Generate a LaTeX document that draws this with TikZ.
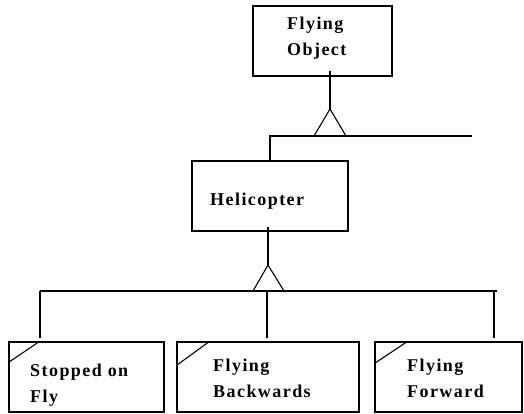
\documentclass[tikz,border=0pt]{standalone}
\usepackage{fontspec}
\newfontfamily\lblfont[LetterSpace=8]{Liberation Serif}
\begin{document}
\begin{tikzpicture}[x=1pt,y=-1pt,
  cls/.style={draw,line width=1.1pt,minimum height=70pt,inner sep=0pt},
  lbl/.style={anchor=base west,align=left,inner sep=0pt,
    font=\lblfont\bfseries\fontsize{18}{26}\selectfont},
  ln/.style={line width=1.1pt},
  gap/.style={ln,shorten >=3pt}]
\useasboundingbox (0,0) rectangle (524,413);

% classes
\node[cls,minimum width=139pt] (fo)   at (322.5,41) {};
\node[cls,minimum width=156pt] (heli) at (270,196) {};
\node[cls,minimum width=155pt] (s1)   at (86.5,377) {};
\node[cls,minimum width=182pt] (s2)   at (268,377) {};
\node[cls,minimum width=147pt] (s3)   at (448.5,377) {};

% class names (anchored at the baseline of the last line)
\node[lbl] (foT)   at (287,55)  {Flying\\Object};
\node[lbl] (heliT) at (210,205) {Helicopter};
\node[lbl] (s1T)   at (30,402)  {Stopped on\\Fly};
\node[lbl] (s2T)   at (213,397) {Flying\\Backwards};
\node[lbl] (s3T)   at (407,397) {Flying\\Forward};

% state corner marks
\draw[ln] ([yshift=-21pt]s1.north west) -- ([xshift=31pt]s1.north west);
\draw[ln] ([yshift=-24pt]s2.north west) -- ([xshift=33pt]s2.north west);
\draw[ln] ([yshift=-22pt]s3.north west) -- ([xshift=33pt]s3.north west);

% generalisation: Flying Object -> Helicopter
\coordinate (t1) at (330,109);
\coordinate (bus1end) at (472,136);
\draw[ln] (t1) -- (314,136) -- (346,136) -- cycle;
\draw[ln] ([yshift=6pt]fo.south -| t1) -- (t1);
\draw[ln] (heli.north) |- (bus1end);

% generalisation: Helicopter -> states
\coordinate (t2) at (268,265);
\draw[ln] (t2) -- (253,291) -- (284,291) -- cycle;
\draw[ln] ([yshift=5pt]heli.south -| t2) -- (t2);
\coordinate (d1) at (40,291);
\coordinate (d2) at (267,291);
\coordinate (d3) at (494,291);
\coordinate (bus2end) at (497,291);
\draw[ln] (d1) -- (bus2end);
\draw[gap] (d1) -- (d1 |- s1.north);
\draw[gap] (d2) -- (d2 |- s2.north);
\draw[gap] (d3) -- (d3 |- s3.north);
\end{tikzpicture}
\end{document}
